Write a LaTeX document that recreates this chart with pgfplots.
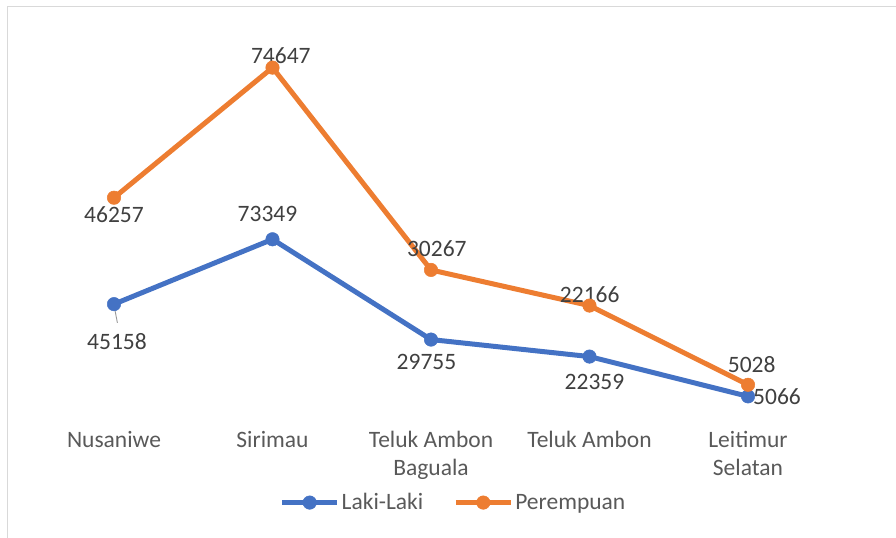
\documentclass[border=0pt]{standalone}
\usepackage{pgfplots}
\usepackage{pgfplotstable}
\pgfplotsset{compat=1.18}
\usepackage{fontspec}
\setmainfont{Carlito}
\definecolor{lblue}{HTML}{4472C4}
\definecolor{lorange}{HTML}{ED7D31}
\definecolor{dlab}{HTML}{404040}
\definecolor{clab}{HTML}{595959}
\definecolor{bord}{HTML}{D9D9D9}
\pgfplotstableread{
x L P
0 45158 46257
1 73349 74647
2 29755 30267
3 22359 22166
4 5066 5028
}\datatable
\begin{document}
\begin{tikzpicture}[font=\fontsize{23.5bp}{28.7bp}\selectfont]
\useasboundingbox (0,0) rectangle (896bp,538bp);
\draw[bord, line width=1.3bp] (7.5bp,0) -- (7.5bp,531.3bp) -- (896bp,531.3bp);
\begin{axis}[
  at={(34.75bp,130bp)}, anchor=south west,
  scale only axis, width=792.5bp, height=368bp,
  xmin=-0.5, xmax=4.5, ymin=0, ymax=160000,
  axis line style={draw=none}, ytick=\empty, xtick={0,1,2,3,4},
  major tick length=0pt,
  xticklabels={Nusaniwe,Sirimau,{Teluk Ambon\\Baguala},Teluk Ambon,{Leitimur\\Selatan}},
  xticklabel style={align=center, anchor=north, inner sep=0pt, yshift=-22.7bp, text=clab},
  clip=false,
  legend style={at={(0.5284,-0.257)}, anchor=center, draw=none, fill=none,
    text=clab, /tikz/every even column/.append style={column sep=28bp}},
  legend columns=2,
  legend image code/.code={\draw[mark repeat=2,mark phase=2,#1] plot coordinates {(0bp,0bp)(27.5bp,0bp)(55bp,0bp)};},
]
\addplot[lblue, line width=5bp, mark=*, mark size=6.75bp, mark options={solid, line width=0.5bp, fill=lblue}]
  table[x=x, y=L] {\datatable};
\addlegendentry{Laki-Laki}
\addplot[lorange, line width=5bp, mark=*, mark size=6.75bp, mark options={solid, line width=0.5bp, fill=lorange}]
  table[x=x, y expr=\thisrow{L}+\thisrow{P}] {\datatable};
\addlegendentry{Perempuan}
\draw[gray!80, line width=0.9bp] ([yshift=-1bp]axis cs:0,45158) -- ([shift={(3.4bp,-18.7bp)}]axis cs:0,45158);
\node[text=dlab] at ([shift={(0bp,-17bp)}]axis cs:0,91415) {46257};
\node[text=dlab] at ([shift={(8.3bp,12.3bp)}]axis cs:1,147996) {74647};
\node[text=dlab] at ([shift={(5.8bp,21.2bp)}]axis cs:2,60022) {30267};
\node[text=dlab] at ([shift={(0.2bp,10.7bp)}]axis cs:3,44525) {22166};
\node[text=dlab] at ([shift={(3.7bp,20bp)}]axis cs:4,10094) {5028};
\node[text=dlab] at ([shift={(3bp,-37.5bp)}]axis cs:0,45158) {45158};
\node[text=dlab] at ([shift={(-5bp,25.3bp)}]axis cs:1,73349) {73349};
\node[text=dlab] at ([shift={(-4.5bp,-22.2bp)}]axis cs:2,29755) {29755};
\node[text=dlab] at ([shift={(5bp,-25.5bp)}]axis cs:3,22359) {22359};
\node[text=dlab] at ([shift={(29bp,-0.8bp)}]axis cs:4,5066) {5066};
\end{axis}
\end{tikzpicture}
\end{document}
